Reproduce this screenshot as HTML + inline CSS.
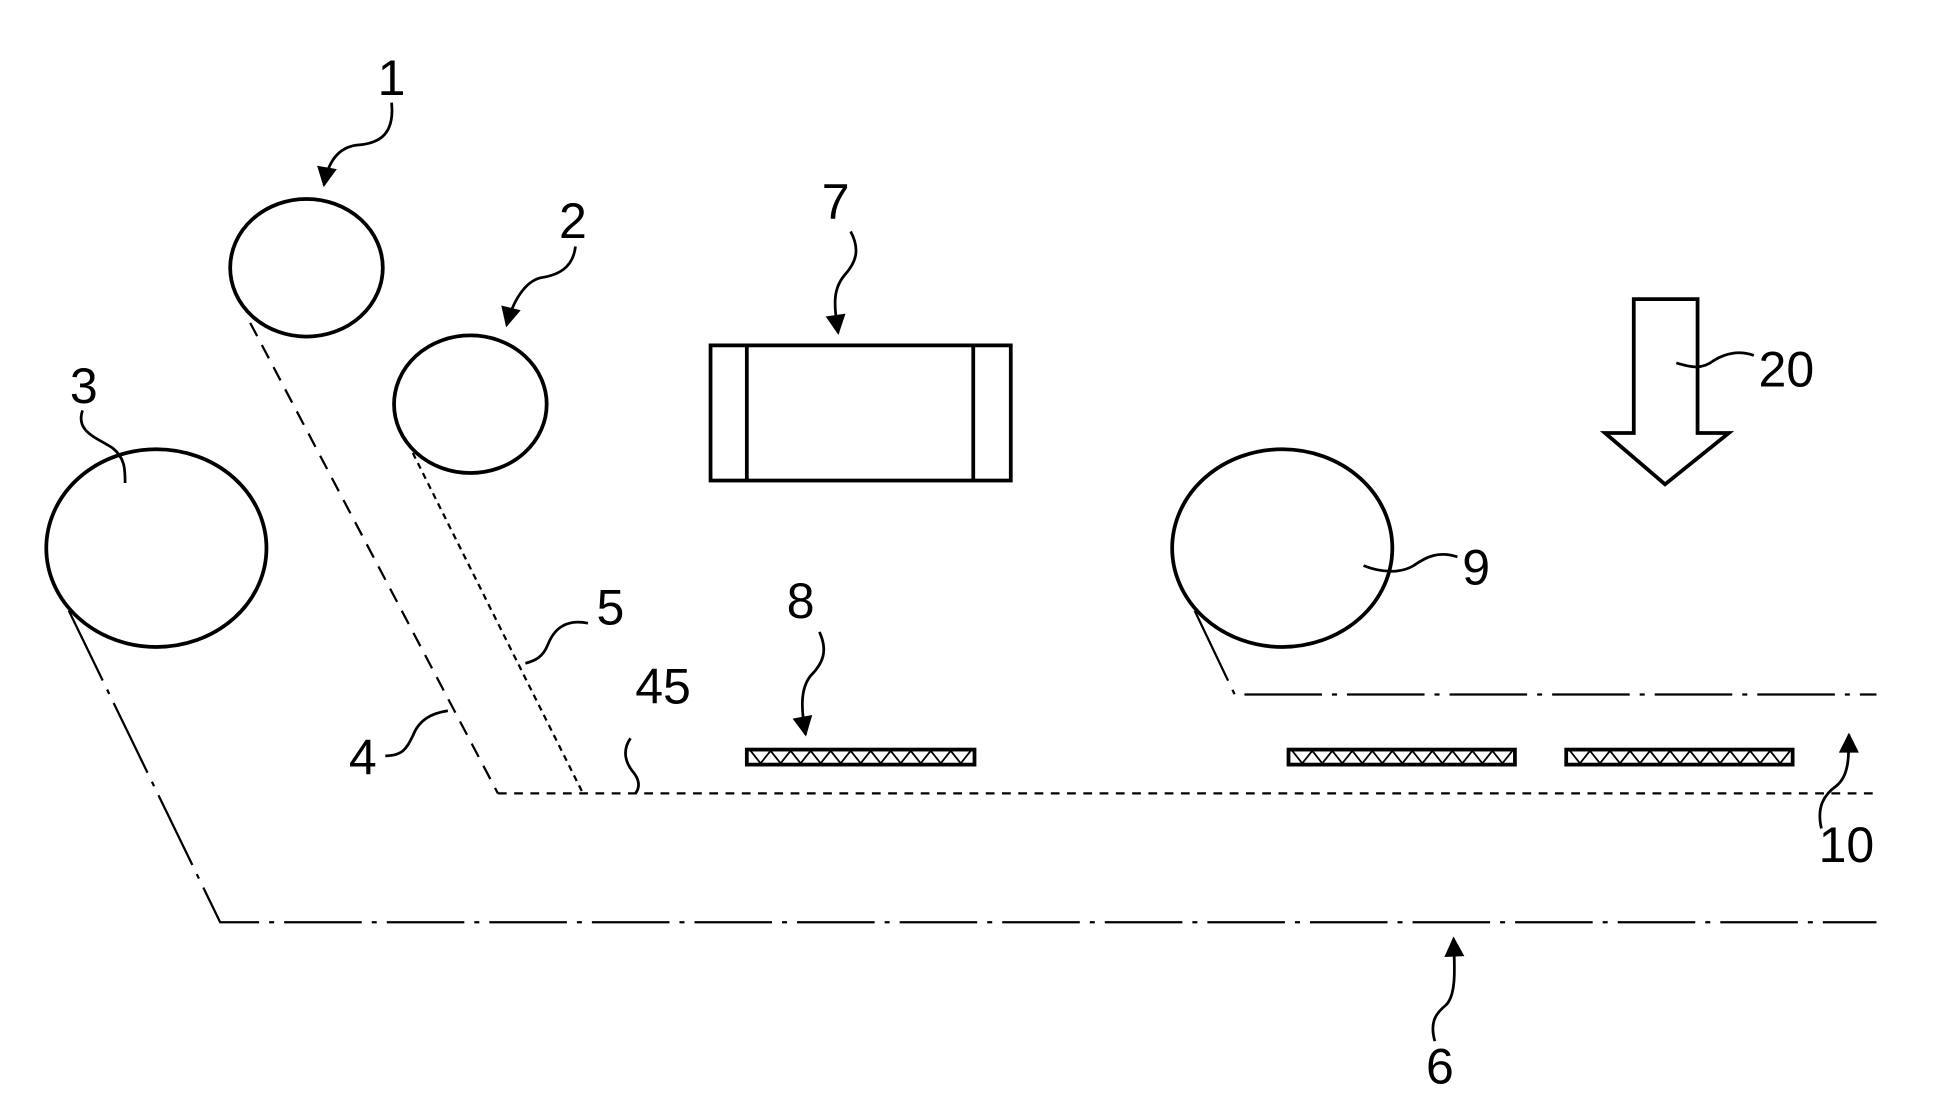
<!DOCTYPE html>
<html><head><style>html,body{margin:0;padding:0;background:#fff}svg{display:block}</style></head><body>
<svg width="1939" height="1120" viewBox="0 0 1550 895" preserveAspectRatio="none" xmlns="http://www.w3.org/2000/svg">
<defs><marker id="a" viewBox="0 0 10 10" refX="9" refY="5" markerWidth="9" markerHeight="7" markerUnits="userSpaceOnUse" orient="auto"><path d="M0,0 L10,5 L0,10 z" fill="#000"/></marker>
<marker id="b" viewBox="0 0 10 10" refX="9" refY="5" markerWidth="20" markerHeight="16" markerUnits="userSpaceOnUse" orient="auto"><path d="M0,0 L10,5 L0,10 z" fill="#000"/></marker></defs>
<g fill="none" stroke="#000" stroke-width="3">
<ellipse cx="245" cy="214" rx="61" ry="55"/>
<ellipse cx="376" cy="323" rx="61" ry="55"/>
<ellipse cx="125" cy="438" rx="88" ry="79"/>
<ellipse cx="1025" cy="438" rx="88" ry="79"/>
<rect x="568" y="276" width="240" height="108"/>
<line x1="597" y1="276" x2="597" y2="384"/>
<line x1="778" y1="276" x2="778" y2="384"/>
<path d="M1306,239 H1357 V346 H1382 L1331,387 L1283,346 H1306 Z"/>
<rect x="597" y="599" width="182" height="12"/>
<rect x="1030" y="599" width="181" height="12"/>
<rect x="1252" y="599" width="181" height="12"/>
</g>
<g fill="none" stroke="#000" stroke-width="1.4">
<path d="M600,600 l8,10 l8,-10 l8,10 l8,-10 l8,10 l8,-10 l8,10 l8,-10 l8,10 l8,-10 l8,10 l8,-10 l8,10 l8,-10 l8,10 l8,-10 l8,10 l8,-10 l8,10 l8,-10 l8,10 l8,-10"/>
<path d="M1033,600 l8,10 l8,-10 l8,10 l8,-10 l8,10 l8,-10 l8,10 l8,-10 l8,10 l8,-10 l8,10 l8,-10 l8,10 l8,-10 l8,10 l8,-10 l8,10 l8,-10 l8,10 l8,-10 l8,10 l8,-10"/>
<path d="M1255,600 l8,10 l8,-10 l8,10 l8,-10 l8,10 l8,-10 l8,10 l8,-10 l8,10 l8,-10 l8,10 l8,-10 l8,10 l8,-10 l8,10 l8,-10 l8,10 l8,-10 l8,10 l8,-10 l8,10 l8,-10"/>
</g>
<g fill="none" stroke="#000" stroke-width="1.8">
<polyline points="200,258 398,634" stroke-dasharray="12,8"/>
<polyline points="398,634 1500,634" stroke-dasharray="7,6"/>
<polyline points="330,362 466,634" stroke-dasharray="5,4"/>
<polyline points="55,488 176,737 1500,737" stroke-dasharray="62,8,4,8"/>
<polyline points="955,488 987,555 1500,555" stroke-dasharray="62,8,4,8"/>
</g>
<g fill="none" stroke="#000" stroke-width="2.2">
<path d="M313,82 C316,110 300,115 285,116 C270,118 262,130 259,148" marker-end="url(#b)"/>
<path d="M460,197 C458,215 445,220 432,222 C420,225 410,240 405,260" marker-end="url(#b)"/>
<path d="M680,185 C688,200 684,210 675,220 C665,232 667,245 670,266" marker-end="url(#b)"/>
<path d="M655,505 C662,520 658,530 648,540 C640,550 640,565 644,587" marker-end="url(#b)"/>
<path d="M1456,662 C1452,645 1458,635 1468,628 C1478,620 1478,605 1478,587" marker-end="url(#b)"/>
<path d="M1147,832 C1142,815 1150,808 1156,803 C1164,795 1163,775 1162,750" marker-end="url(#b)"/>
<path d="M66,328 C60,345 78,350 90,358 C100,366 100,375 100,386"/>
<path d="M470,498 C450,494 442,505 438,515 C434,525 428,528 420,530"/>
<path d="M308,604 C322,604 325,598 330,588 C335,575 345,570 358,568"/>
<path d="M504,590 C497,600 500,610 507,618 C512,625 511,630 508,634"/>
<path d="M1165,445 C1150,440 1140,445 1130,452 C1120,458 1105,458 1090,452"/>
<path d="M1402,284 C1390,280 1380,282 1370,288 C1360,296 1350,293 1340,290"/>
</g>
<g font-family="Liberation Sans, sans-serif" font-size="40" fill="#000" text-anchor="middle">
<text x="313" y="76">1</text>
<text x="458" y="190">2</text>
<text x="67" y="322">3</text>
<text x="668" y="175">7</text>
<text x="1428" y="309">20</text>
<text x="1180" y="467">9</text>
<text x="488" y="499">5</text>
<text x="530" y="562">45</text>
<text x="290" y="619">4</text>
<text x="640" y="494">8</text>
<text x="1476" y="689">10</text>
<text x="1151" y="866">6</text>
</g>
</svg>
</body></html>
